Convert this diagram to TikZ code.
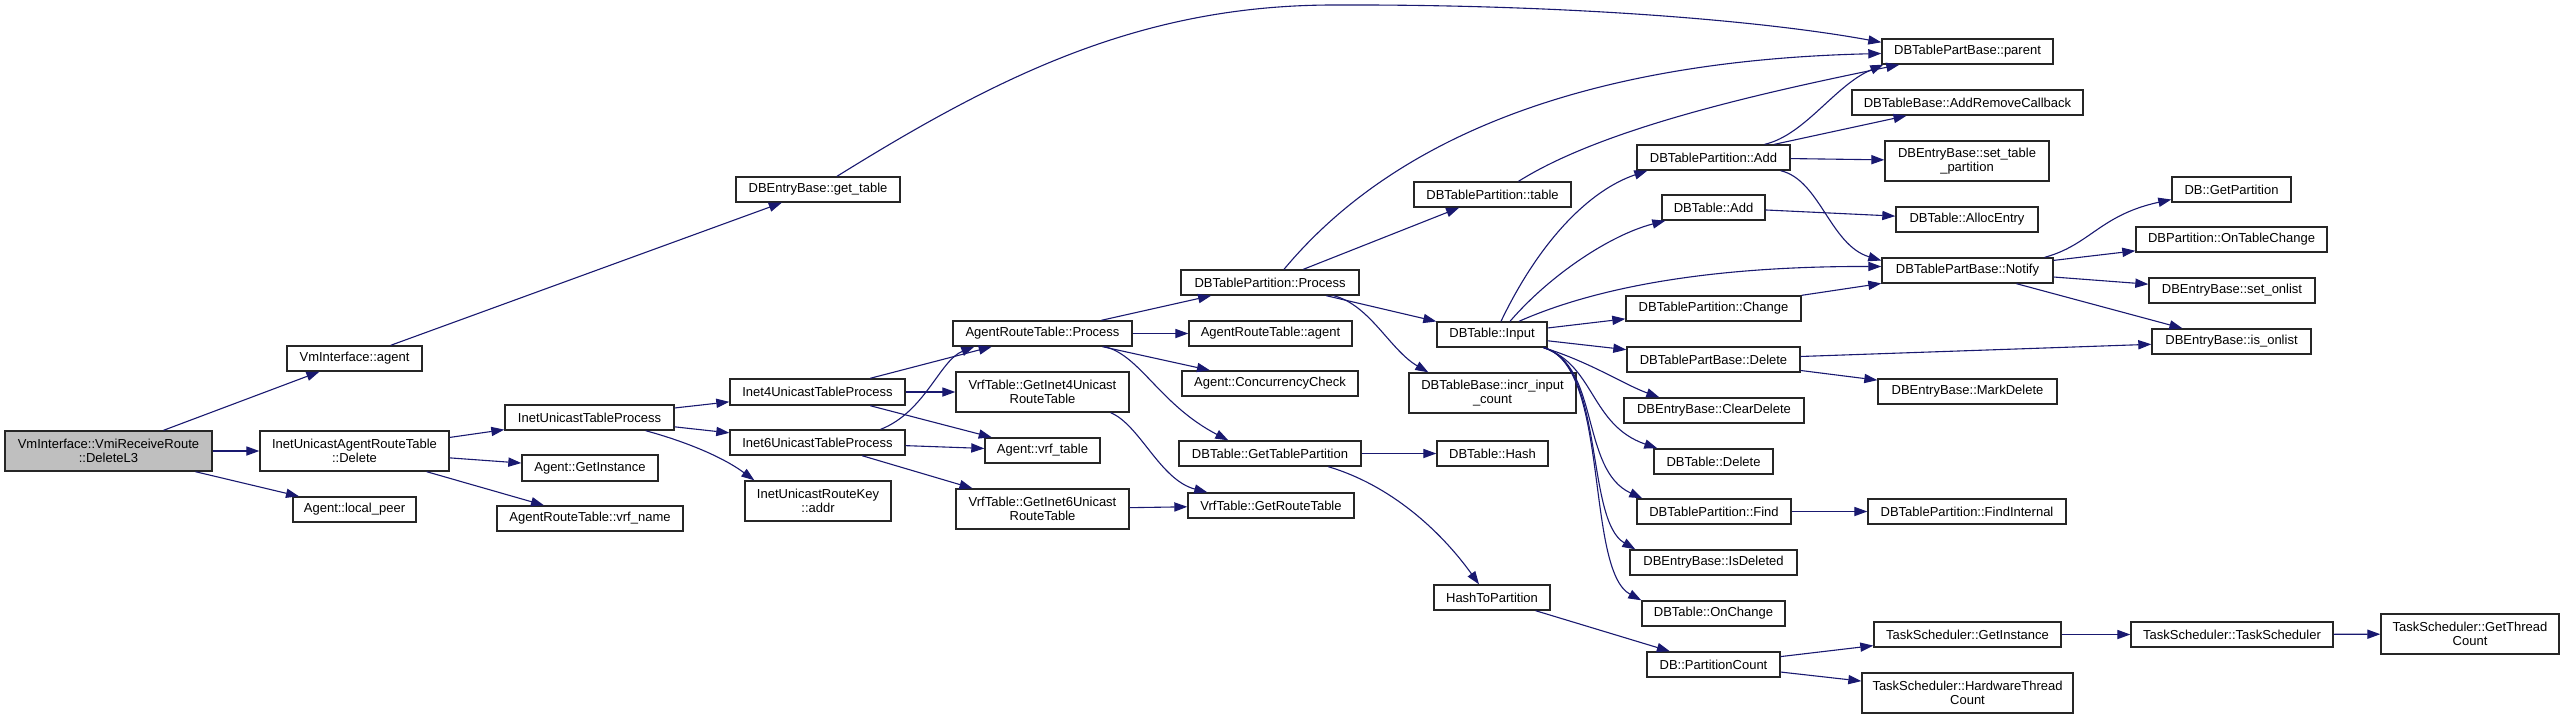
\documentclass[tikz,border=0pt]{standalone}
\usepackage{fontspec}
\setmainfont{Liberation Sans}
\usetikzlibrary{arrows.meta,calc}
\definecolor{edgeblue}{RGB}{25,25,112}
\definecolor{maingray}{RGB}{191,191,191}
\tikzset{
  box/.style={draw=black!85, line width=0.7pt, fill=white, inner sep=0pt, align=center,
    font=\fontsize{6.5}{7}\selectfont},
  e/.style={draw=edgeblue, line width=0.55pt, -{Triangle[length=6.5pt,width=4.6pt]}, fill=none}
}
\newcommand\gnode[7][]{\node[box,#1,minimum width={(#5-#3)*0.5pt},minimum height={(#6-#4)*0.5pt}] (#2) at ({(#3+#5)/2},{(#4+#6)/2}) {#7};}
\begin{document}
\begin{tikzpicture}[x=0.5pt,y=-0.5pt]
\useasboundingbox[fill=white] (0,0) rectangle (2564,719);
% nodes
\gnode[fill=maingray]{main}{5}{431}{212}{471}{VmInterface::VmiReceiveRoute\\::DeleteL3}
\gnode{vagent}{287}{346}{422}{371}{VmInterface::agent}
\gnode{iuartd}{260}{431}{449}{471}{InetUnicastAgentRouteTable\\::Delete}
\gnode{localpeer}{293}{497}{416}{522}{Agent::local\_peer}
\gnode{gettable}{736}{177}{900}{202}{DBEntryBase::get\_table}
\gnode{itp}{505}{405}{674}{430}{InetUnicastTableProcess}
\gnode{getinst}{522}{455}{658}{481}{Agent::GetInstance}
\gnode{vrfname}{497}{506}{683}{531}{AgentRouteTable::vrf\_name}
\gnode{inetfour}{730}{379}{905}{405}{Inet4UnicastTableProcess}
\gnode{inetsix}{730}{430}{905}{455}{Inet6UnicastTableProcess}
\gnode{addr}{745}{481}{891}{521}{InetUnicastRouteKey\\::addr}
\gnode{artp}{953}{321}{1132}{346}{AgentRouteTable::Process}
\gnode{vrffour}{956}{372}{1129}{412}{VrfTable::GetInet4Unicast\\RouteTable}
\gnode{vrftable}{985}{438}{1100}{463}{Agent::vrf\_table}
\gnode{vrfsix}{956}{489}{1129}{529}{VrfTable::GetInet6Unicast\\RouteTable}
\gnode{dbtpp}{1181}{270}{1359}{295}{DBTablePartition::Process}
\gnode{artagent}{1189}{321}{1352}{346}{AgentRouteTable::agent}
\gnode{concur}{1182}{371}{1358}{396}{Agent::ConcurrencyCheck}
\gnode{gtp}{1179}{441}{1361}{466}{DBTable::GetTablePartition}
\gnode{grt}{1188}{493}{1354}{518}{VrfTable::GetRouteTable}
\gnode{dbtptable}{1414}{182}{1571}{207}{DBTablePartition::table}
\gnode{input}{1437}{322}{1547}{347}{DBTable::Input}
\gnode{incr}{1409}{373}{1576}{413}{DBTableBase::incr\_input\\\_count}
\gnode{hash}{1437}{441}{1548}{466}{DBTable::Hash}
\gnode{htp}{1434}{585}{1550}{610}{HashToPartition}
\gnode{padd}{1637}{145}{1790}{170}{DBTablePartition::Add}
\gnode{tadd}{1662}{195}{1765}{220}{DBTable::Add}
\gnode{change}{1626}{296}{1801}{321}{DBTablePartition::Change}
\gnode{tpbdel}{1627}{347}{1800}{372}{DBTablePartBase::Delete}
\gnode{cleardel}{1624}{398}{1804}{423}{DBEntryBase::ClearDelete}
\gnode{tdel}{1654}{449}{1773}{474}{DBTable::Delete}
\gnode{find}{1637}{499}{1791}{524}{DBTablePartition::Find}
\gnode{isdel}{1630}{550}{1797}{575}{DBEntryBase::IsDeleted}
\gnode{onchange}{1642}{601}{1785}{626}{DBTable::OnChange}
\gnode{pcount}{1647}{652}{1780}{677}{DB::PartitionCount}
\gnode{parent}{1882}{39}{2053}{64}{DBTablePartBase::parent}
\gnode{addrem}{1852}{90}{2083}{115}{DBTableBase::AddRemoveCallback}
\gnode{settp}{1885}{141}{2049}{181}{DBEntryBase::set\_table\\\_partition}
\gnode{alloc}{1896}{207}{2038}{232}{DBTable::AllocEntry}
\gnode{notify}{1882}{258}{2053}{283}{DBTablePartBase::Notify}
\gnode{markdel}{1878}{379}{2057}{404}{DBEntryBase::MarkDelete}
\gnode{findint}{1868}{499}{2066}{524}{DBTablePartition::FindInternal}
\gnode{tsgi}{1874}{622}{2061}{647}{TaskScheduler::GetInstance}
\gnode{hwtc}{1862}{673}{2073}{713}{TaskScheduler::HardwareThread\\Count}
\gnode{getpart}{2172}{177}{2291}{202}{DB::GetPartition}
\gnode{ontc}{2136}{227}{2327}{252}{DBPartition::OnTableChange}
\gnode{setonlist}{2149}{278}{2315}{303}{DBEntryBase::set\_onlist}
\gnode{isonlist}{2152}{329}{2311}{354}{DBEntryBase::is\_onlist}
\gnode{tsts}{2131}{622}{2333}{647}{TaskScheduler::TaskScheduler}
\gnode{gtc}{2381}{614}{2559}{654}{TaskScheduler::GetThread\\Count}
% edges
\draw[e] (main) -- (vagent);
\draw[e] (main) -- (iuartd);
\draw[e] (main) -- (localpeer);
\draw[e] (vagent) -- (gettable);
\draw[e] ($(gettable.north)+(19,0)$) .. controls (1000,75) and (1140,6) .. (1330,5) .. controls (1560,4) and (1760,20) .. ($(parent.north west)+(0,4)$);
\draw[e] (iuartd) -- (itp);
\draw[e] (iuartd) -- (getinst);
\draw[e] (iuartd) -- (vrfname);
\draw[e] (itp) -- (inetfour);
\draw[e] (itp) -- (inetsix);
\draw[e] ($(itp.south east)+(-29,0)$) .. controls (680,440) and (720,455) .. ($(addr.north west)+(10,0)$);
\draw[e] (inetfour) -- (artp);
\draw[e] (inetfour) -- (vrffour);
\draw[e] (inetfour) -- (vrftable);
\draw[e] ($(inetsix.north east)+(-25,0)$) .. controls (925,412) and (940,360) .. ($(artp.south west)+(22,0)$);
\draw[e] (inetsix) -- (vrftable);
\draw[e] (inetsix) -- (vrfsix);
\draw[e] ($(vrffour.south east)+(-19,0)$) .. controls (1140,425) and (1160,480) .. ($(grt.north west)+(20,0)$);
\draw[e] (vrfsix) -- (grt);
\draw[e] (artp) -- (dbtpp);
\draw[e] (artp) -- (artagent);
\draw[e] (artp) -- (concur);
\draw[e] ($(artp.south east)+(-28,0)$) .. controls (1140,355) and (1160,405) .. ($(gtp.north west)+(50,0)$);
\draw[e] (gtp) -- (hash);
\draw[e] ($(gtp.south west)+(150,0)$) .. controls (1390,485) and (1440,530) .. ($(htp.north)+(-13,0)$);
\draw[e] (htp) -- (pcount);
\draw[e] (pcount) -- (tsgi);
\draw[e] (pcount) -- (hwtc);
\draw[e] (tsgi) -- (tsts);
\draw[e] (tsts) -- (gtc);
\draw[e] ($(dbtpp.north)+(14,0)$) .. controls (1400,130) and (1600,60) .. ($(parent.west)+(0,2)$);
\draw[e] (dbtpp) -- (dbtptable);
\draw[e] (dbtpp) -- (input);
\draw[e] ($(dbtpp.south east)+(-26,0)$) .. controls (1370,305) and (1390,350) .. ($(incr.north west)+(20,0)$);
\draw[e] ($(dbtptable.north)+(26,0)$) .. controls (1600,130) and (1750,95) .. ($(parent.south west)+(18,0)$);
\draw[e] ($(input.north)+(9,0)$) .. controls (1540,240) and (1590,190) .. ($(padd.south west)+(11,0)$);
\draw[e] ($(input.north)+(18,0)$) .. controls (1550,275) and (1610,235) .. ($(tadd.south west)+(4,0)$);
\draw[e] ($(input.north)+(27,0)$) .. controls (1590,290) and (1700,266) .. ($(notify.west)+(0,-4)$);
\draw[e] (input) -- (change);
\draw[e] (input) -- (tpbdel);
\draw[e] ($(input.south east)+(-4,0)$) .. controls (1590,362) and (1625,385) .. ($(cleardel.north west)+(36,0)$);
\draw[e] ($(input.south east)+(-4,0)$) .. controls (1595,365) and (1590,425) .. ($(tdel.north west)+(4,0)$);
\draw[e] ($(input.south east)+(-4,0)$) .. controls (1600,365) and (1580,470) .. ($(find.north west)+(6,0)$);
\draw[e] ($(input.south east)+(-4,0)$) .. controls (1605,365) and (1585,520) .. ($(isdel.north west)+(6,0)$);
\draw[e] ($(input.south east)+(-4,0)$) .. controls (1610,365) and (1585,570) .. ($(onchange.north west)+(0,0)$);
\draw[e] ($(padd.north east)+(-26,0)$) .. controls (1805,135) and (1835,85) .. ($(parent.south west)+(2,0)$);
\draw[e] (padd) -- (addrem);
\draw[e] (padd) -- (settp);
\draw[e] ($(padd.south east)+(-10,0)$) .. controls (1820,180) and (1830,245) .. ($(notify.west)+(0,-10)$);
\draw[e] (tadd) -- (alloc);
\draw[e] (change) -- (notify);
\draw[e] (tpbdel) -- (isonlist);
\draw[e] (tpbdel) -- (markdel);
\draw[e] (find) -- (findint);
\draw[e] ($(notify.north east)+(-9,0)$) .. controls (2090,245) and (2100,215) .. ($(getpart.west)+(0,10)$);
\draw[e] (notify) -- (ontc);
\draw[e] (notify) -- (setonlist);
\draw[e] (notify) -- (isonlist);
\end{tikzpicture}
\end{document}
